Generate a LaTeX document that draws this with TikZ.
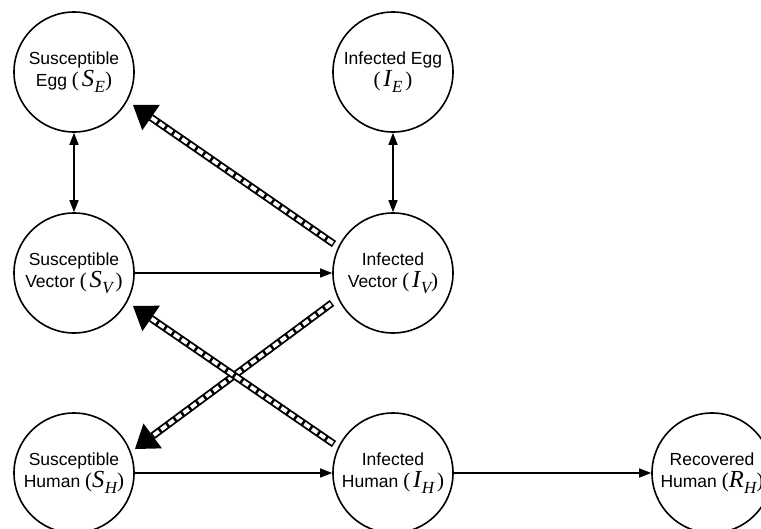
\documentclass[tikz,border=0pt]{standalone}
\usepackage{fontspec}
\setmainfont{Liberation Sans}
\newfontfamily\tms{Liberation Serif}
\usetikzlibrary{arrows.meta,calc}
\newcommand\vr[2]{{\tms\fontsize{24.5}{24.5}\selectfont\itshape #1\kern0.5pt\raisebox{-0.24em}{\fontsize{17}{17}\selectfont #2}}}
\newcommand\pl{{\tms\fontsize{21}{21}\selectfont (}}
\newcommand\pr{{\tms\fontsize{21}{21}\selectfont )}}
\begin{document}
\begin{tikzpicture}[x=1pt,y=-1pt,
  state/.style={circle,draw,line width=1.6pt,minimum size=120pt,inner sep=0pt,align=center,
    font=\fontsize{17.5}{22}\selectfont},
  flow/.style={line width=1.3pt,-{Triangle[length=12pt,width=9pt]}},
  biflow/.style={line width=1.3pt,{Triangle[length=12pt,width=9pt]}-{Triangle[length=12pt,width=9pt]}},
  hollowout/.style={line width=7.5pt,-{Triangle[length=22pt,width=31pt,line width=0pt]}},
  hollowin/.style={white,line width=3.8pt,dash pattern=on 6.5pt off 2.8pt,shorten <=1.5pt,shorten >=22.5pt},
]
\useasboundingbox (0,0) rectangle (761,528);
\clip (0,0) rectangle (761,528);
\fill[white] (0,0) rectangle (761,528);

\node[state] (SE) at (74,72)  {Susceptible\\Egg \pl\,\vr{S}{E}\pr};
\node[state] (IE) at (393,72) {Infected Egg\\\pl\,\vr{I}{E}\,\pr};
\node[state] (SV) at (74,273) {Susceptible\\Vector \pl\,\vr{S}{V}\,\pr};
\node[state] (IV) at (393,273) {Infected\\Vector \pl\,\vr{I}{V}\pr};
\node[state] (SH) at (74,473) {Susceptible\\Human \pl\vr{S}{H}\pr};
\node[state] (IH) at (393,473) {Infected\\Human \pl\,\vr{I}{H}\,\pr};
\node[state] (RH) at (712,473) {Recovered\\Human \pl\vr{R}{H}\pr};

\draw[biflow] (SE) -- (SV);
\draw[biflow] (IE) -- (IV);
\draw[flow] (SV) -- (IV);
\draw[flow] (SH) -- (IH);
\draw[flow] (IH) -- (RH);

\coordinate (t1) at ($(IV)+(-59,-29)$);
\coordinate (h1) at ($(SE)+(59,33)$);
\coordinate (t2) at ($(IH)+(-59,-29)$);
\coordinate (h2) at ($(SV)+(59,33)$);
\coordinate (t3) at ($(IV)+(-61,30)$);
\coordinate (h3) at ($(SH)+(61,-24)$);

\draw[hollowout] (t1) -- (h1);
\draw[hollowin] (t1) -- (h1);
\draw[hollowout] (t3) -- (h3);
\draw[hollowin] (t3) -- (h3);
\draw[hollowout] (t2) -- (h2);
\draw[hollowin] (t2) -- (h2);
\end{tikzpicture}
\end{document}
